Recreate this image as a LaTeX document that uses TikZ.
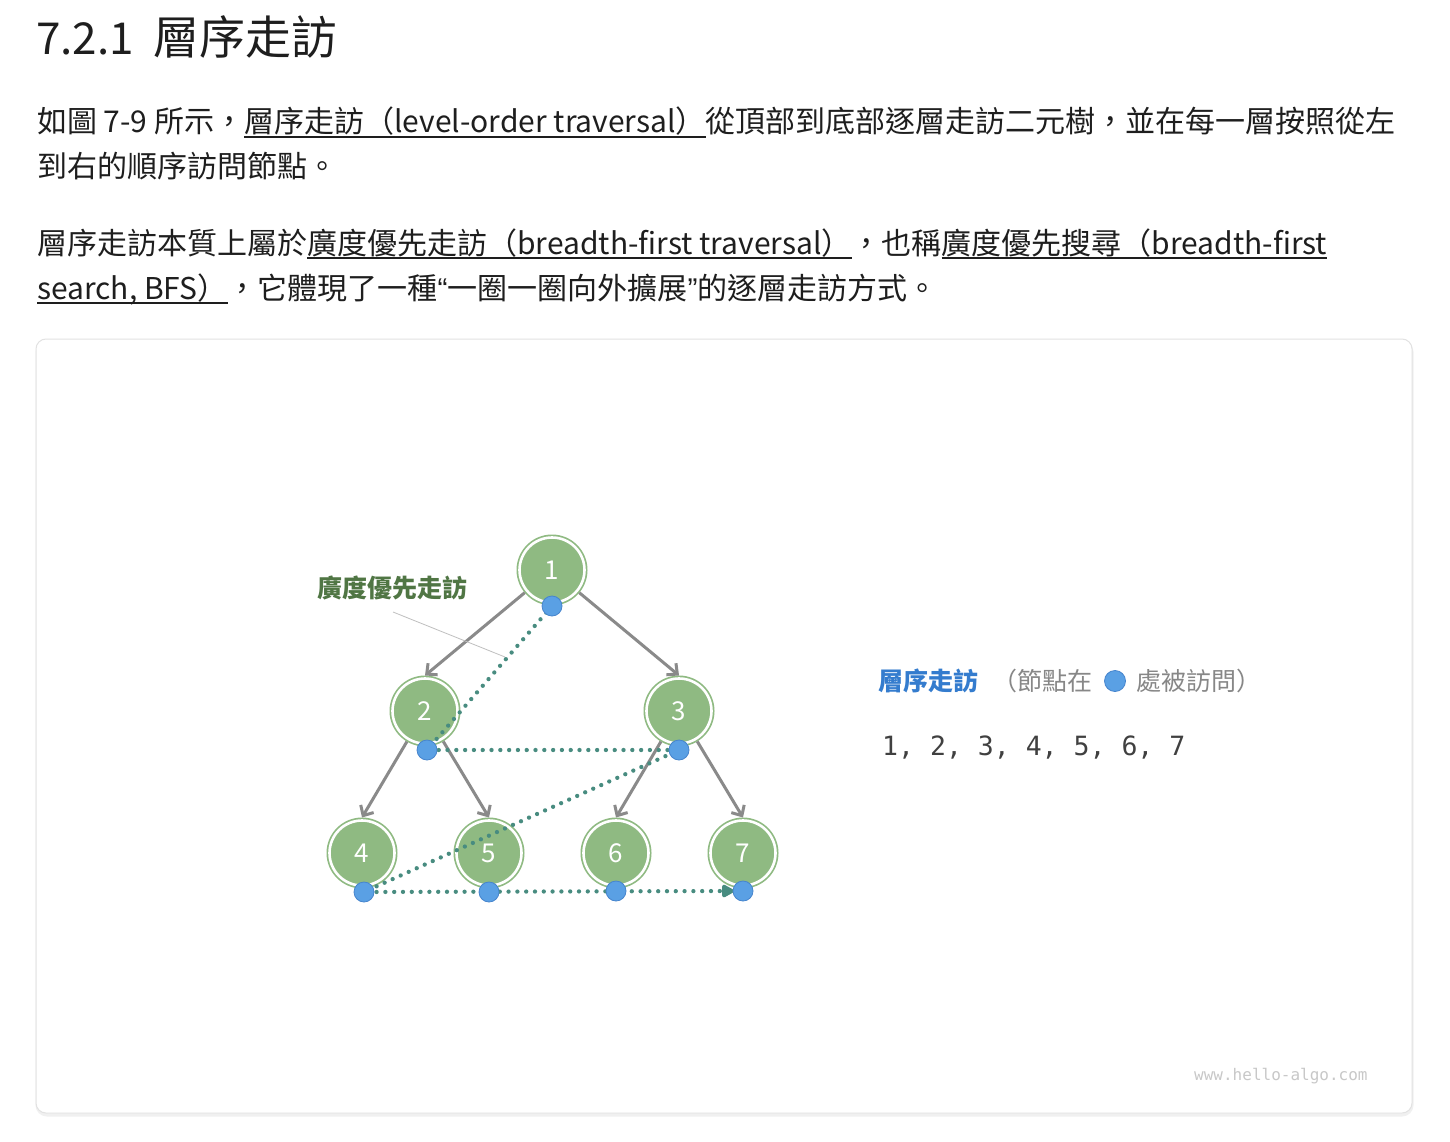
\documentclass[tikz,border=0pt]{standalone}
\usepackage{fontspec}
\setmainfont{Noto Sans CJK TC}
\newfontfamily\monof{DejaVu Sans Mono}
\newfontfamily\quotef{Liberation Sans}
\usetikzlibrary{arrows.meta}
\definecolor{txt}{RGB}{30,30,30}
\definecolor{ngreen}{RGB}{143,186,130}
\definecolor{bdot}{RGB}{90,160,228}
\definecolor{bdotline}{RGB}{70,132,205}
\definecolor{teal}{RGB}{72,140,128}
\definecolor{agray}{RGB}{138,138,138}
\definecolor{lgreen}{RGB}{80,118,68}
\definecolor{lblue}{RGB}{52,124,206}
\definecolor{lgray}{RGB}{135,135,135}
\definecolor{pborder}{RGB}{226,226,226}
\definecolor{wm}{RGB}{200,200,200}
\newcommand\myul[1]{\setbox0\hbox{#1}\rlap{\rule[-5pt]{\wd0}{1.8pt}}\box0}
\begin{document}
\begin{tikzpicture}[x=1pt,y=-1pt,
  bodytext/.style={anchor=base west,inner sep=0,text=txt,font=\fontsize{30}{30}\selectfont},
  treenode/.style={circle,fill=ngreen,draw=ngreen,double=white,double distance=2.6pt,line width=1.7pt,
    minimum size=65pt,inner sep=0,outer sep=3pt,text=white,font=\fontsize{26}{26}\selectfont},
  bluedot/.style={circle,fill=bdot,draw=bdotline,line width=0.8pt,minimum size=20pt,inner sep=0},
  treearrow/.style={draw=agray,line width=3pt,-{Straight Barb[length=8pt,width=15pt,line width=3pt]}},
  bfs/.style={draw=teal,line width=4.3pt,line cap=round,dash pattern=on 0pt off 8.8pt,
    -{Triangle[length=14pt,width=14pt,round=false]}},
  leader/.style={draw=black!25,line width=0.8pt},
  legtext/.style={anchor=base west,inner sep=0,font=\fontsize{25}{25}\selectfont}]
\useasboundingbox (0,0) rectangle (1450,1142);
\fill[white] (0,0) rectangle (1450,1142);

% heading and paragraphs
\node[anchor=base west,inner sep=0,text=txt,font=\fontsize{44}{44}\selectfont] (titlenum) at (36,55) {7.2.1};
\node[anchor=base west,inner sep=0,text=txt,font=\fontsize{46}{46}\selectfont] (title) at (153,55) {層序走訪};
\node[bodytext] (l1) at (37,133) {如圖 7-9 所示，\myul{層序走訪（level-order traversal）}從頂部到底部逐層走訪二元樹，並在每一層按照從左};
\node[bodytext] (l2) at (37,178) {到右的順序訪問節點。};
\node[bodytext] (l3) at (37,254) {層序走訪本質上屬於\myul{廣度優先走訪（breadth-first traversal）}，也稱\myul{廣度優先搜尋（breadth-first}};
\node[bodytext] (l4) at (37,299) {\myul{search, BFS）}，它體現了一種{\quotef “}一圈一圈向外擴展{\quotef ”}的逐層走訪方式。};

% panel
\draw[black!6,line width=3pt,rounded corners=10pt] (37,342) rectangle (1412,1115);
\draw[pborder,fill=white,line width=1pt,rounded corners=10pt] (36,339) rectangle (1412,1113);

% tree nodes
\node[treenode] (n1) at (552,570) {1};
\node[treenode] (n2) at (425,711) {2};
\node[treenode] (n3) at (679,711) {3};
\node[treenode] (n4) at (362,853) {4};
\node[treenode] (n5) at (489,853) {5};
\node[treenode] (n6) at (616,853) {6};
\node[treenode] (n7) at (743,853) {7};

% edges
\draw[treearrow] (n1) -- (n2.north);
\draw[treearrow] (n1) -- (n3.north);
\draw[treearrow] (n2) -- (n4.north);
\draw[treearrow] (n2) -- (n5.north);
\draw[treearrow] (n3) -- (n6.north);
\draw[treearrow] (n3) -- (n7.north);

% visit points
\coordinate (c1) at (552,606);
\coordinate (c2) at (427,750);
\coordinate (c3) at (679,750);
\coordinate (c4) at (364,892);
\coordinate (c5) at (489,892);
\coordinate (c6) at (616,891);
\coordinate (c7) at (743,891);
\draw[bfs] (c1) -- (c2) -- (c3) -- (c4) -- ([xshift=-9pt]c7);
\node[bluedot] (b1) at (c1) {};
\node[bluedot] (b2) at (c2) {};
\node[bluedot] (b3) at (c3) {};
\node[bluedot] (b4) at (c4) {};
\node[bluedot] (b5) at (c5) {};
\node[bluedot] (b6) at (c6) {};
\node[bluedot] (b7) at (c7) {};

% label
\node[inner sep=0,text=lgreen,font=\fontsize{25}{25}\selectfont\bfseries] (lbl) at (392,588) {廣度優先走訪};
\coordinate (la) at (393,612);
\coordinate (lb) at (505,657);
\draw[leader] (la) -- (lb);

% legend
\node[legtext,text=lblue,font=\fontsize{25}{25}\selectfont\bfseries] (leg1) at (878,690) {層序走訪};
\node[legtext,text=lgray] (leg2) at (992,690) {（節點在};
\node[bluedot,minimum size=21pt] (legdot) at (1115,681) {};
\node[legtext,text=lgray] (leg3) at (1136,690) {處被訪問）};
\node[anchor=base west,inner sep=0,text=txt!85,font=\monof\fontsize{26.5}{26.5}\selectfont] (seq) at (882,755) {1, 2, 3, 4, 5, 6, 7};

% watermark
\node[anchor=base west,inner sep=0,text=wm,font=\monof\fontsize{16}{16}\selectfont] (wmk) at (1194,1080) {www.hello-algo.com};
\end{tikzpicture}
\end{document}
